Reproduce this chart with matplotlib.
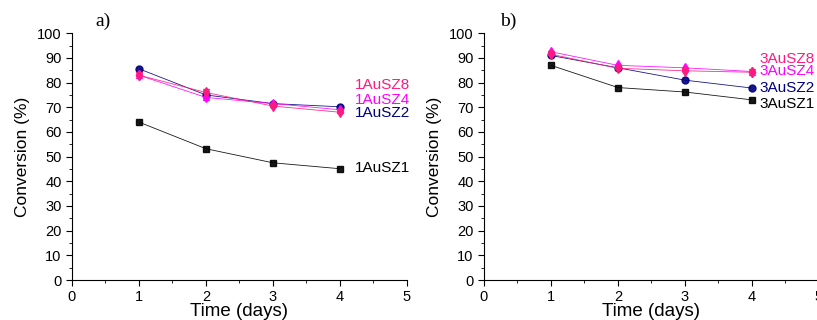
import matplotlib.pyplot as plt
from matplotlib.ticker import MultipleLocator

plt.rcParams['font.family'] = ['Liberation Sans', 'DejaVu Sans']

days = [1, 2, 3, 4]

# panel a)
a_sz1 = [64.0, 53.2, 47.5, 45.1]
a_sz2 = [85.6, 75.0, 71.5, 70.2]
a_sz4 = [83.0, 74.0, 71.5, 69.0]
a_sz8 = [83.0, 76.0, 70.5, 68.0]

# panel b)
b_sz1 = [87.0, 78.0, 76.2, 73.0]
b_sz2 = [91.0, 86.0, 81.0, 77.8]
b_sz4 = [92.5, 87.0, 86.0, 84.5]
b_sz8 = [91.5, 85.8, 84.8, 84.2]

names_a = ["1AuSZ1", "1AuSZ2", "1AuSZ4", "1AuSZ8"]
names_b = ["3AuSZ1", "3AuSZ2", "3AuSZ4", "3AuSZ8"]

colors = ["black", "#000080", "#ff00ff", "#ff1a80"]
markers = ["s", "o", "^", "v"]

fig = plt.figure(figsize=(8.17, 3.2), dpi=100)
ax1 = fig.add_axes([0.0881, 0.125, 0.410, 0.771])
ax2 = fig.add_axes([0.5924, 0.125, 0.410, 0.771])


def draw(ax, series, names, label_x, label_y, panel, panel_x):
    for vals, c, m in zip(series, colors, markers):
        ax.plot(days, vals, color=c, marker=m, markersize=5, linewidth=0.6, alpha=0.9)
        if m in ("^", "v"):
            ax.plot(days, vals, color=c, marker="d", markersize=5.5, linewidth=0, alpha=0.9)
    for name, c, ly in zip(names, colors, label_y):
        ax.text(label_x, ly, name, color=c, fontsize=11, va="center", ha="left", clip_on=False)
    ax.set_xlim(0, 5)
    ax.set_ylim(0, 100)
    ax.xaxis.set_major_locator(MultipleLocator(1))
    ax.xaxis.set_minor_locator(MultipleLocator(0.5))
    ax.yaxis.set_major_locator(MultipleLocator(10))
    ax.yaxis.set_minor_locator(MultipleLocator(5))
    ax.tick_params(which="major", direction="out", length=4, labelsize=10.5)
    ax.tick_params(which="minor", direction="out", length=2.5)
    ax.spines["top"].set_visible(False)
    ax.spines["right"].set_visible(False)
    ax.set_xlabel("Time (days)", fontsize=13.5, labelpad=-1)
    ax.set_ylabel("Conversion (%)", fontsize=12.5, labelpad=5)
    ax.text(panel_x, 1.05, panel, transform=ax.transAxes, fontsize=14,
            family="Liberation Serif", va="center", ha="left")


draw(ax1, [a_sz1, a_sz2, a_sz4, a_sz8], names_a, 4.22,
     [45.4, 67.7, 73.0, 79.0], "a)", 0.069)
draw(ax2, [b_sz1, b_sz2, b_sz4, b_sz8], names_b, 4.11,
     [71.3, 77.8, 84.8, 89.6], "b)", 0.048)

fig.savefig("out.png", dpi=100)
